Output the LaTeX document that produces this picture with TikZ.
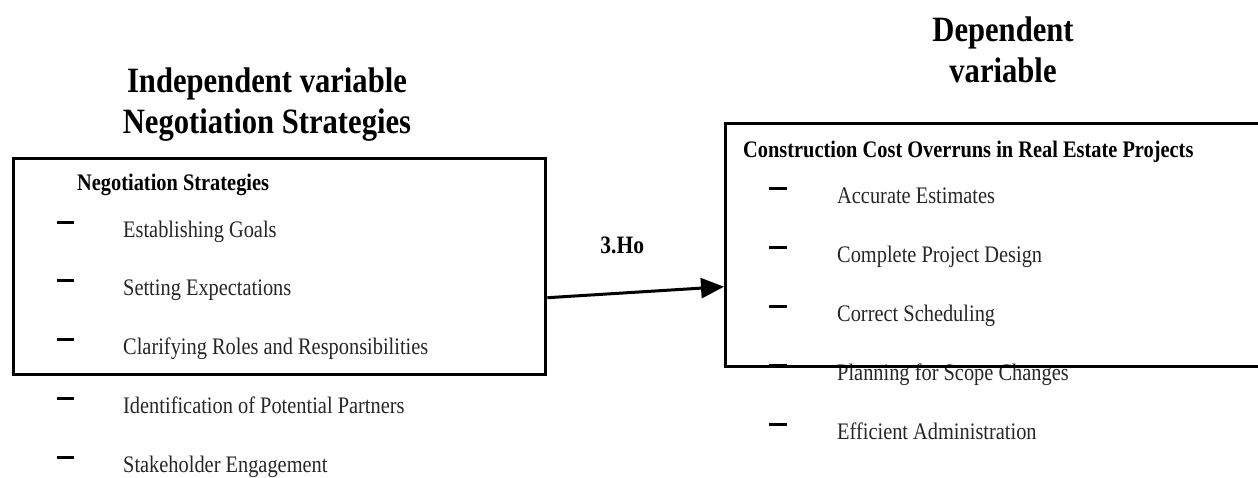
\documentclass[tikz,border=0pt]{standalone}
\usepackage{fontspec}
\setmainfont{Liberation Serif}[FakeStretch=0.86]
\usetikzlibrary{arrows.meta}

\tikzset{
  frame/.style={draw, line width=3.4pt, inner sep=0pt, anchor=north west},
  headtext/.style={font=\fontsize{35.6}{41}\selectfont\bfseries, align=center, inner sep=0pt, anchor=base},
  boldlabel/.style={font=\fontsize{23.7}{28}\selectfont\bfseries, inner sep=0pt, anchor=base west},
  itemtext/.style={font=\fontsize{23.7}{28}\selectfont, text=black!85, inner sep=0pt, anchor=base west},
  bar/.style={line width=3pt},
  link/.style={-{Triangle[length=23pt,width=20pt]}, line width=3pt}
}

\begin{document}
\begin{tikzpicture}[x=1pt, y=-1pt]
  \clip (0,0) rectangle (1258,477);
  % titles
  \node[headtext] (ltitle) at (267,133) {Independent variable\\Negotiation Strategies};
  \node[headtext] (rtitle) at (1003,82) {Dependent\\variable};
  % left side
  \node[boldlabel] (lhead) at (77,190) {Negotiation Strategies};
  \foreach \txt [count=\i] in {Establishing Goals, Setting Expectations, Clarifying Roles and Responsibilities, Identification of Potential Partners, Stakeholder Engagement}{
    \node[itemtext] (litem\i) at (123,{237+58.75*(\i-1)}) {\txt};
    \draw[bar] (57,{222+58.75*(\i-1)}) -- (74,{222+58.75*(\i-1)});
  }
  % right side
  \node[boldlabel] (rhead) at (743,157) {Construction Cost Overruns in Real Estate Projects};
  \foreach \txt [count=\i] in {Accurate Estimates, Complete Project Design, Correct Scheduling, Planning for Scope Changes, Efficient Administration}{
    \node[itemtext] (ritem\i) at (837,{203+59*(\i-1)}) {\txt};
    \draw[bar] (769,{188+59*(\i-1)}) -- (787,{188+59*(\i-1)});
  }
  % boxes
  \node[frame, minimum width=532pt, minimum height=216pt] (lbox) at (12,157) {};
  \node[frame, minimum width=545pt, minimum height=243pt] (rbox) at (724,122) {};
  % hypothesis arrow
  \draw[link] ([yshift=-31pt]lbox.east) -- ([yshift=-41.5pt]rbox.west)
    node[midway, above=36.5pt, xshift=-13.5pt, inner sep=0pt, font=\fontsize{25}{30}\selectfont\bfseries] (hyp) {3.Ho};
\end{tikzpicture}
\end{document}
